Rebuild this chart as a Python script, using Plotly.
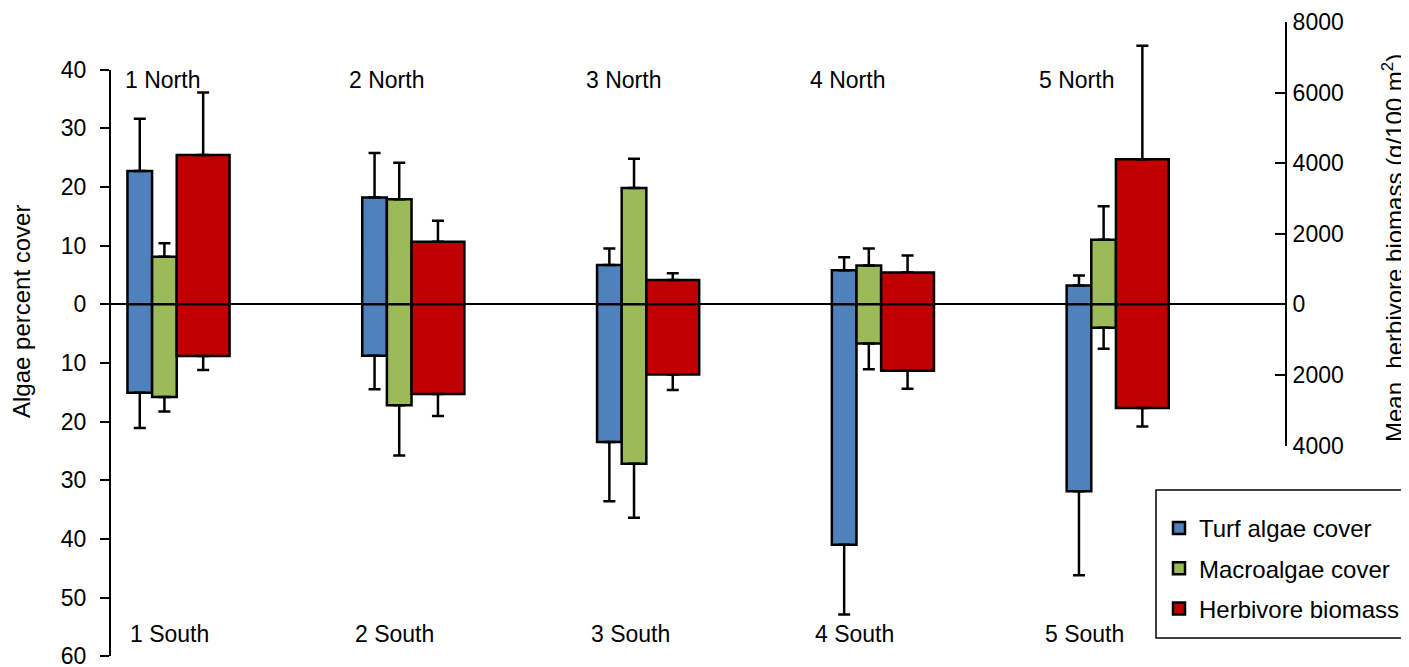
import plotly.graph_objects as go

# ---------------- data ----------------
sites = ["1", "2", "3", "4", "5"]
north_labels = ["1 North", "2 North", "3 North", "4 North", "5 North"]
south_labels = ["1 South", "2 South", "3 South", "4 South", "5 South"]

turf_north = [22.7, 18.2, 6.7, 5.8, 3.2]
turf_north_err = [8.9, 7.6, 2.8, 2.2, 1.7]
turf_south = [15.1, 8.8, 23.5, 41.0, 31.9]
turf_south_err = [6.0, 5.7, 10.1, 11.9, 14.3]

macro_north = [8.1, 17.9, 19.8, 6.6, 11.0]
macro_north_err = [2.3, 6.2, 5.0, 2.9, 5.7]
macro_south = [15.8, 17.2, 27.2, 6.7, 4.0]
macro_south_err = [2.5, 8.6, 9.2, 4.4, 3.6]

herb_north = [4230, 1775, 690, 905, 4110]
herb_north_err = [1770, 595, 190, 480, 3220]
herb_south = [1465, 2540, 1985, 1880, 2935]
herb_south_err = [395, 625, 445, 510, 525]

left_tick_vals = [40, 30, 20, 10, 0, -10, -20, -30, -40, -50, -60]
right_tick_vals = [8000, 6000, 4000, 2000, 0, -2000, -4000]

# ---------------- layout helpers (positions / styles) ----------------
north_label_dx = [-0.279, -0.325, -0.319, -0.365, -0.386]
south_label_dx = [-0.251, -0.293, -0.287, -0.333, -0.356]

FONT = "Liberation Sans, Arial, sans-serif"
FS = 23

# the page body adds an 8px offset, so the figure is 8px smaller and
# everything is expressed relative to the plot area (1174 x 652 px)
W, H = 1401, 659
PW, PH = 1174, 652
PT = 2  # top margin
LM = 103


def px(x):   # reference x pixel -> paper fraction
    return (x - 8 - LM) / PW


def py(y):   # reference y pixel -> paper fraction
    return (PH + PT - (y - 8)) / PH


fig = go.Figure()


def add_series(name, north, nerr, south, serr, color, offset, width, yaxis):
    common = dict(
        x=sites,
        marker=dict(color=color, line=dict(color="black", width=2.5)),
        offset=offset,
        width=width,
        yaxis=yaxis,
        legendgroup=name,
        name=name,
    )
    fig.add_trace(go.Bar(
        y=north,
        error_y=dict(type="data", symmetric=False, array=nerr,
                     arrayminus=[0] * len(nerr), color="black",
                     thickness=2.5, width=6),
        showlegend=True,
        **common,
    ))
    fig.add_trace(go.Bar(
        y=[-v for v in south],
        error_y=dict(type="data", symmetric=False, array=[0] * len(serr),
                     arrayminus=serr, color="black", thickness=2.5, width=6),
        showlegend=False,
        **common,
    ))


add_series("Turf algae cover", turf_north, turf_north_err, turf_south,
           turf_south_err, "#4F81BD", -0.43, 0.105, "y")
add_series("Macroalgae cover", macro_north, macro_north_err, macro_south,
           macro_south_err, "#9BBB59", -0.325, 0.105, "y")
add_series("Herbivore biomass", herb_north, herb_north_err, herb_south,
           herb_south_err, "#C00000", -0.22, 0.225, "y2")

annotations = []
for i, (lab, dx) in enumerate(zip(north_labels, north_label_dx)):
    annotations.append(dict(x=i + dx, y=38.3, xref="x", yref="y", text=lab,
                            showarrow=False, xanchor="center", yanchor="middle",
                            font=dict(size=FS, color="black", family=FONT)))
for i, (lab, dx) in enumerate(zip(south_labels, south_label_dx)):
    annotations.append(dict(x=i + dx, y=-56.2, xref="x", yref="y", text=lab,
                            showarrow=False, xanchor="center", yanchor="middle",
                            font=dict(size=FS, color="black", family=FONT)))

annotations.append(dict(x=px(21), y=py(312), xref="paper", yref="paper",
                        text="Algae percent cover", textangle=-90,
                        showarrow=False, xanchor="center", yanchor="middle",
                        font=dict(size=24, color="black", family=FONT)))
annotations.append(dict(x=px(1393), y=py(248), xref="paper", yref="paper",
                        text="Mean\u00a0 herbivore biomass (g/100 m<sup>2</sup>)",
                        textangle=-90, showarrow=False, xanchor="center",
                        yanchor="middle",
                        font=dict(size=24, color="black", family=FONT)))

fig.update_layout(
    width=W, height=H,
    margin=dict(l=LM, r=W - LM - PW, t=PT, b=H - PT - PH, autoexpand=False),
    paper_bgcolor="white", plot_bgcolor="rgba(0,0,0,0)",
    barmode="overlay",
    font=dict(family=FONT, size=FS, color="black"),
    xaxis=dict(type="category", range=[-0.5, 4.5], showticklabels=False,
               showline=False, ticks="", showgrid=False, zeroline=False,
               domain=[0, 1]),
    yaxis=dict(range=[-60.02, 40], domain=[py(656.3), py(69.6)],
               tickvals=left_tick_vals,
               ticktext=[str(abs(v)) for v in left_tick_vals],
               showline=True, linecolor="black", linewidth=2,
               ticks="outside", ticklen=9, tickwidth=2, tickcolor="black",
               showgrid=False, zeroline=True, zerolinecolor="black",
               zerolinewidth=1.5, ticklabelstandoff=9,
               ticklabeloverflow="allow",
               tickfont=dict(size=FS, color="black", family=FONT)),
    yaxis2=dict(range=[-4000, 8000], domain=[py(445.5), py(22)], anchor="x",
                side="right", tickvals=right_tick_vals,
                ticktext=[str(abs(v)) for v in right_tick_vals],
                showline=True, linecolor="black", linewidth=2,
                ticks="inside", ticklen=10, tickwidth=2, tickcolor="black",
                showgrid=False, zeroline=False, ticklabelstandoff=1,
                ticklabeloverflow="allow",
                tickfont=dict(size=FS, color="black", family=FONT)),
    legend=dict(x=px(1159), y=py(506), xanchor="left", yanchor="top",
                bgcolor="rgba(0,0,0,0)", borderwidth=0,
                traceorder="grouped", tracegroupgap=6,
                font=dict(size=24, color="black", family=FONT)),
    shapes=[dict(type="rect", xref="paper", yref="paper",
                 x0=px(1156), x1=px(1407), y0=py(638), y1=py(490),
                 line=dict(color="black", width=1.5), fillcolor="rgba(0,0,0,0)")],
    annotations=annotations,
)

fig.write_html("out.html")
